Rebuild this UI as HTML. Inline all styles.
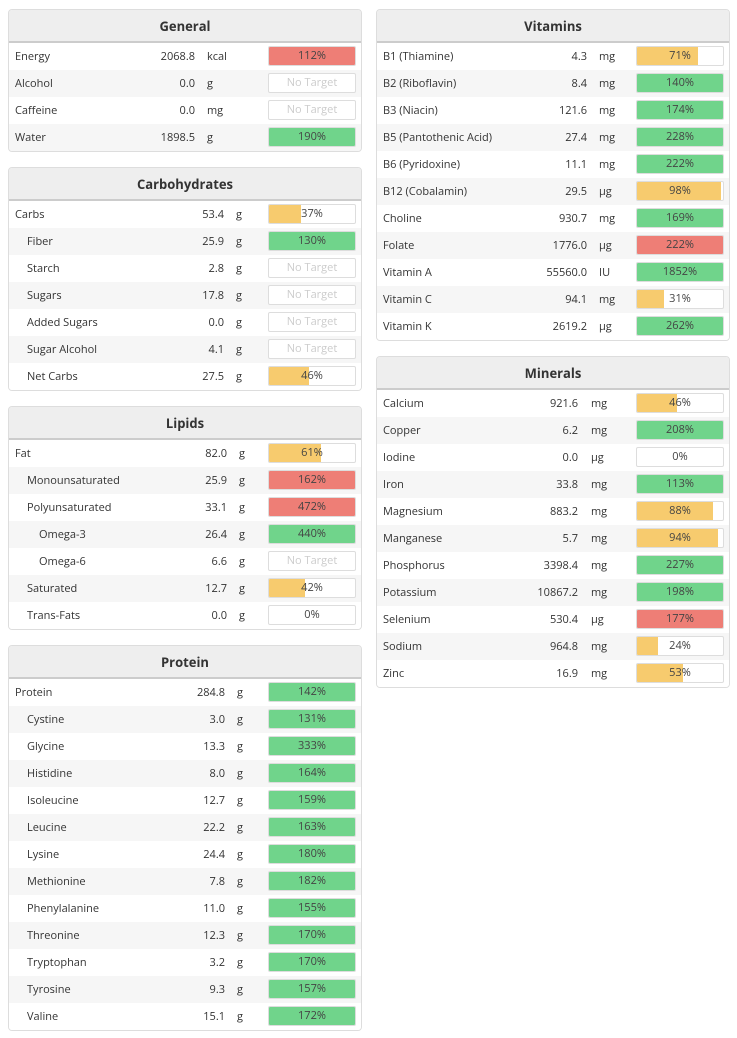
<!DOCTYPE html>
<html><head><meta charset="utf-8">
<style>
body{margin:0;background:#fff;font-family:"Open Sans","Liberation Sans",sans-serif;color:#333;width:737px;height:1038px;position:relative;overflow:hidden}
.panel{position:absolute;width:354px;border:1px solid #ddd;border-radius:4px;background:#fff;box-sizing:border-box;overflow:hidden}
.hdr{height:31px;background:#eee;border-bottom:2px solid #ccc;text-align:center;font-weight:bold;font-size:13px;line-height:32px;color:#333}
.row{position:relative;height:27px;font-size:11px;line-height:27px}
.row:nth-child(odd){background:#f6f6f6}
.lbl,.val,.unit{position:absolute;top:0;white-space:nowrap}
.val{text-align:right}
.bar{position:absolute;top:3px;width:88px;height:20px;border:1px solid #ddd;border-radius:2px;box-sizing:border-box;background:#fff;overflow:hidden}
.fill{position:absolute;left:0;top:0;bottom:0}
.bt{position:absolute;left:0;right:0;top:0;text-align:center;line-height:18px;font-size:11px;color:#444}
.nt{color:#ccc}
</style></head><body>
<div id="root"></div>
<script>
// panels: name, left, top, value right edge (relative to panel), unit left
const panelNames=["General","Carbohydrates","Lipids","Protein","Vitamins","Minerals"];
const generalLabels=["Energy","Alcohol","Caffeine","Water"];
const generalValues=["2068.8","0.0","0.0","1898.5"];
const generalUnits=["kcal","g","mg","g"];
const generalPct=[112,null,null,190];
const generalStatus=["r","n","n","g"];
const carbLabels=["Carbs","Fiber","Starch","Sugars","Added Sugars","Sugar Alcohol","Net Carbs"];
const carbIndent=[0,1,1,1,1,1,1];
const carbValues=["53.4","25.9","2.8","17.8","0.0","4.1","27.5"];
const carbPct=[37,130,null,null,null,null,46];
const carbStatus=["y","g","n","n","n","n","y"];
const lipidLabels=["Fat","Monounsaturated","Polyunsaturated","Omega-3","Omega-6","Saturated","Trans-Fats"];
const lipidIndent=[0,1,1,2,2,1,1];
const lipidValues=["82.0","25.9","33.1","26.4","6.6","12.7","0.0"];
const lipidPct=[61,162,472,440,null,42,0];
const lipidStatus=["y","r","r","g","n","y","y"];
const proteinLabels=["Protein","Cystine","Glycine","Histidine","Isoleucine","Leucine","Lysine","Methionine","Phenylalanine","Threonine","Tryptophan","Tyrosine","Valine"];
const proteinIndent=[0,1,1,1,1,1,1,1,1,1,1,1,1];
const proteinValues=["284.8","3.0","13.3","8.0","12.7","22.2","24.4","7.8","11.0","12.3","3.2","9.3","15.1"];
const proteinPct=[142,131,333,164,159,163,180,182,155,170,170,157,172];
const vitLabels=["B1 (Thiamine)","B2 (Riboflavin)","B3 (Niacin)","B5 (Pantothenic Acid)","B6 (Pyridoxine)","B12 (Cobalamin)","Choline","Folate","Vitamin A","Vitamin C","Vitamin K"];
const vitValues=["4.3","8.4","121.6","27.4","11.1","29.5","930.7","1776.0","55560.0","94.1","2619.2"];
const vitUnits=["mg","mg","mg","mg","mg","µg","mg","µg","IU","mg","µg"];
const vitPct=[71,140,174,228,222,98,169,222,1852,31,262];
const vitStatus=["y","g","g","g","g","y","g","r","g","y","g"];
const minLabels=["Calcium","Copper","Iodine","Iron","Magnesium","Manganese","Phosphorus","Potassium","Selenium","Sodium","Zinc"];
const minValues=["921.6","6.2","0.0","33.8","883.2","5.7","3398.4","10867.2","530.4","964.8","16.9"];
const minUnits=["mg","mg","µg","mg","mg","mg","mg","mg","µg","mg","mg"];
const minPct=[46,208,0,113,88,94,227,198,177,24,53];
const minStatus=["y","g","y","g","y","y","g","g","r","y","y"];

const colors={r:"#ee7e76",g:"#70d48b",y:"#f7cb6e"};
const root=document.getElementById('root');
function slug(s){return s.toLowerCase().replace(/[^a-z0-9]+/g,'-').replace(/^-|-$/g,'');}
function panel(name,left,top,valRight,unitLeft,labels,indent,values,units,pct,status){
  const p=document.createElement('div');p.className='panel';
  
  
  p.style.left=left+'px';p.style.top=top+'px';
  const h=document.createElement('div');h.className='hdr';h.textContent=name;
  
  
  p.appendChild(h);
  const body=document.createElement('div');p.appendChild(body);
  labels.forEach((l,i)=>{
    const r=document.createElement('div');r.className='row';
    
    
    r.style.background=i%2?'#f6f6f6':'#fff';
    const a=document.createElement('span');a.className='lbl';a.textContent=l;a.style.left=(6+12*(indent?indent[i]:0))+'px';
    
    
    const v=document.createElement('span');v.className='val';v.textContent=values[i];v.style.right=(352-valRight)+'px';
    
    
    const u=document.createElement('span');u.className='unit';u.textContent=units[i];u.style.left=unitLeft+'px';
    
    
    const b=document.createElement('div');b.className='bar';b.style.left='259px';
    
    
    const t=document.createElement('div');t.className='bt';
    if(pct[i]===null){t.textContent='No Target';t.classList.add('nt');}
    else{
      const f=document.createElement('div');f.className='fill';
      f.style.width=Math.min(pct[i],100)+'%';f.style.background=colors[status[i]];
      b.appendChild(f);t.textContent=pct[i]+'%';
    }
    b.appendChild(t);
    r.appendChild(a);r.appendChild(v);r.appendChild(u);r.appendChild(b);
    body.appendChild(r);
  });
  root.appendChild(p);
}
const g7=n=>Array(n).fill('g');
panel(panelNames[0],8,9,186,198,generalLabels,null,generalValues,generalUnits,generalPct,generalStatus);
panel(panelNames[1],8,167,215,227,carbLabels,carbIndent,carbValues,g7(7),carbPct,carbStatus);
panel(panelNames[2],8,406,218,230,lipidLabels,lipidIndent,lipidValues,g7(7),lipidPct,lipidStatus);
panel(panelNames[3],8,645,216,228,proteinLabels,proteinIndent,proteinValues,g7(13),proteinPct,g7(13));
panel(panelNames[4],376,9,210,222,vitLabels,null,vitValues,vitUnits,vitPct,vitStatus);
panel(panelNames[5],376,356,201,214,minLabels,null,minValues,minUnits,minPct,minStatus);
</script>
</body></html>
